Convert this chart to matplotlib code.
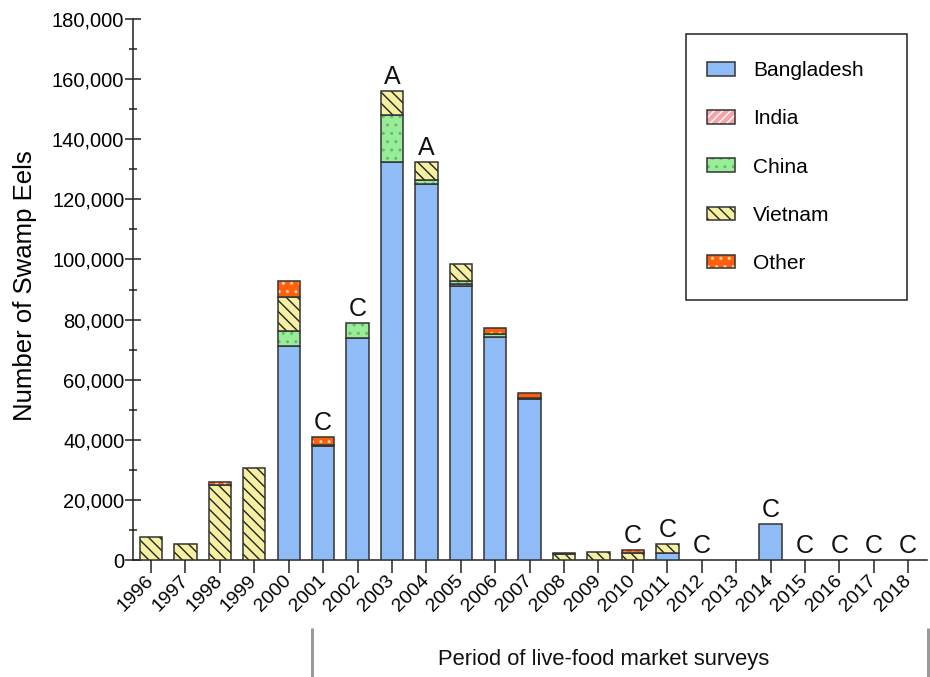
import matplotlib
matplotlib.use("Agg")
import matplotlib.pyplot as plt
import matplotlib.transforms as mtransforms
from matplotlib.patches import Patch, Rectangle
from matplotlib.ticker import FuncFormatter, MultipleLocator
from matplotlib.colors import to_rgba

plt.rcParams["font.family"] = ["Liberation Sans", "DejaVu Sans"]
plt.rcParams["hatch.linewidth"] = 1.0

# Swamp eel imports by country of origin
years = list(range(1996, 2019))
bangladesh = [0, 0, 0, 0, 71300, 38000, 74000, 132300, 125000, 91300, 74300, 53500,
              0, 0, 0, 2300, 0, 0, 11900, 0, 0, 0, 0]
india = [0, 0, 0, 0, 0, 400, 0, 0, 0, 400, 0, 400,
         0, 0, 0, 0, 0, 0, 0, 0, 0, 0, 0]
china = [0, 0, 0, 0, 4900, 0, 4900, 15700, 1400, 1300, 800, 0,
         0, 0, 0, 0, 0, 0, 0, 0, 0, 0, 0]
vietnam = [7600, 5300, 25000, 30500, 11300, 0, 0, 8000, 6100, 5600, 0, 0,
           2100, 2700, 2400, 3000, 0, 0, 0, 0, 0, 0, 0]
other = [0, 0, 1000, 0, 5300, 2600, 0, 0, 0, 0, 2000, 1800,
         300, 0, 900, 0, 0, 0, 0, 0, 0, 0, 0]
letters = {2001: "C", 2002: "C", 2003: "A", 2004: "A", 2010: "C", 2011: "C",
           2012: "C", 2014: "C", 2015: "C", 2016: "C", 2017: "C", 2018: "C"}

series = [
    ("Bangladesh", bangladesh, dict(face="#8fbcf6", hatch="", hcol="#333333")),
    ("India", india, dict(face="#f6a3aa", hatch="////", hcol="#ffffff")),
    ("China", china, dict(face="#98ee98", hatch="..", hcol="#6fb46f")),
    ("Vietnam", vietnam, dict(face="#f6f1a2", hatch="\\\\\\", hcol="#222222")),
    ("Other", other, dict(face="#ff6010", hatch="..", hcol="#ffd9a0")),
]

EDGE = "#333333"
WIDTH = 0.65


def set_hatch_color(p, col):
    if hasattr(p, "set_hatchcolor"):
        p.set_hatchcolor(col)
    else:
        p._hatch_color = to_rgba(col)


fig = plt.figure(figsize=(9.3, 6.77), dpi=100)
ax = fig.add_axes([0.1434, 0.1728, 0.9964 - 0.1434, 0.9719 - 0.1728])

bottoms = [0] * len(years)
for name, vals, st in series:
    xs = [y for y, v in zip(years, vals) if v > 0]
    hs = [v for v in vals if v > 0]
    bs = [b for b, v in zip(bottoms, vals) if v > 0]
    bars = ax.bar(xs, hs, bottom=bs, width=WIDTH, color=st["face"],
                  edgecolor=EDGE, linewidth=1.1, hatch=st["hatch"] or None, zorder=3)
    for p in bars:
        set_hatch_color(p, st["hcol"])
    bottoms = [b + v for b, v in zip(bottoms, vals)]

for yr, lab in letters.items():
    tot = bottoms[years.index(yr)]
    ax.annotate(lab, (yr, tot), xytext=(0, 1.5), textcoords="offset points",
                ha="center", va="bottom", fontsize=18, color="#111111", zorder=4)

ax.set_xlim(1996 - 0.514, 2018 + 0.535)
ax.set_ylim(0, 180000)
ax.set_xticks(years)
ax.set_xticklabels([str(y) for y in years], rotation=45, ha="right",
                   va="center", rotation_mode="anchor", fontsize=14)
ax.yaxis.set_major_locator(MultipleLocator(20000))
ax.yaxis.set_minor_locator(MultipleLocator(10000))
ax.yaxis.set_major_formatter(FuncFormatter(lambda v, _: f"{int(v):,}"))
ax.tick_params(axis="y", which="major", direction="inout", length=11, width=1.1,
               labelsize=14.5, pad=1, color="#222222")
ax.tick_params(axis="y", which="minor", direction="inout", length=6, width=1.1,
               color="#222222")
ax.tick_params(axis="x", direction="out", length=9, width=1.1, pad=4,
               color="#222222")
for s in ("top", "right"):
    ax.spines[s].set_visible(False)
for s in ("left", "bottom"):
    ax.spines[s].set_linewidth(1.1)
    ax.spines[s].set_color("#222222")

ax.set_ylabel("Number of Swamp Eels", fontsize=18.5)
ax.yaxis.set_label_coords(-0.121, 0.508)

# legend with a separate frame
handles = [Patch(facecolor=st["face"], edgecolor=EDGE, linewidth=1.1,
                 hatch=st["hatch"] or None, label=name) for name, _, st in series]
for h, (_, _, st) in zip(handles, series):
    set_hatch_color(h, st["hcol"])
leg = ax.legend(handles=handles, loc="upper left", bbox_to_anchor=(0.7231, 0.922),
                frameon=False, fontsize=15, handlelength=1.35, handleheight=0.63,
                handletextpad=0.87, labelspacing=1.4, borderpad=0, borderaxespad=0)
ax.add_patch(Rectangle((0.6962, 0.4806), 0.9748 - 0.6962, 0.9723 - 0.4806,
                       transform=ax.transAxes, fill=False, edgecolor="#222222",
                       linewidth=1.1, zorder=5, clip_on=False))

# survey period bracket below the axis
trans = mtransforms.blended_transform_factory(ax.transData, fig.transFigure)
for xv in (2000.69, 2018.58):
    ax.plot([xv, xv], [0, (677 - 628) / 677], transform=trans, color="#9a9a9a",
            linewidth=2.2, clip_on=False, solid_capstyle="butt")
fig.text(604 / 930, (677 - 660) / 677, "Period of live-food market surveys",
         ha="center", va="center", fontsize=15.8, color="#111111")

fig.savefig("out.png", dpi=100)
